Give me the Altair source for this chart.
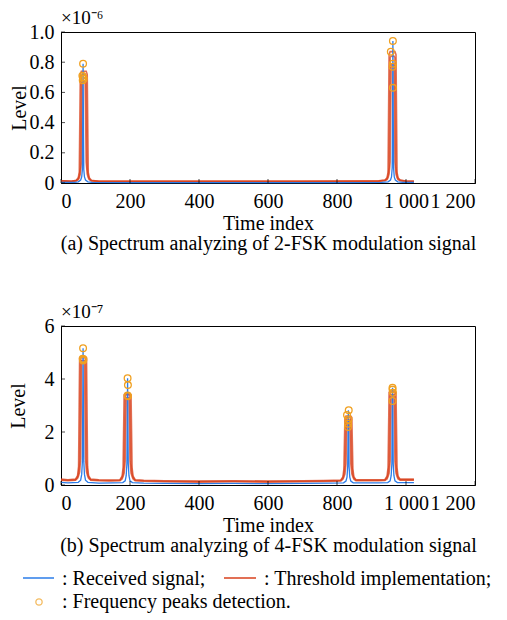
import altair as alt
import pandas as pd

FONT = "Liberation Serif"
BLUE = "#2b7de9"
RED = "#d8401c"
ORANGE = "#f0a020"

# ---------------- data: panel (a), values in units of 1e-6 ----------------
x_ticks = [0, 200, 400, 600, 800, 1000, 1200]
y_ticks_a = [0, 0.2, 0.4, 0.6, 0.8, 1.0]
y_ticks_b = [0, 2, 4, 6]

red_x_a = [0, 30, 44, 50, 53, 56, 59, 62, 70, 73, 76, 79, 82, 88, 110,
           300, 500, 700, 880,
           921, 939, 945, 948, 951, 954, 957, 965, 968, 971, 974, 977, 983, 1000, 1023]
red_outer_a = [0.015, 0.012, 0.018, 0.035, 0.07, 0.72, 0.74, 0.74, 0.74, 0.74, 0.72, 0.07, 0.035, 0.018, 0.012,
               0.012, 0.012, 0.012, 0.013,
               0.014, 0.02, 0.035, 0.07, 0.85, 0.87, 0.87, 0.87, 0.87, 0.85, 0.07, 0.035, 0.02, 0.013, 0.012]
red_mid_a = [0.014, 0.011, 0.016, 0.028, 0.05, 0.1, 0.71, 0.72, 0.72, 0.71, 0.1, 0.05, 0.028, 0.016, 0.011,
             0.011, 0.011, 0.011, 0.012,
             0.013, 0.018, 0.028, 0.05, 0.1, 0.83, 0.84, 0.84, 0.83, 0.1, 0.05, 0.028, 0.018, 0.012, 0.011]
red_inner_a = [0.013, 0.01, 0.014, 0.022, 0.035, 0.06, 0.14, 0.67, 0.67, 0.14, 0.06, 0.035, 0.022, 0.014, 0.01,
               0.01, 0.01, 0.01, 0.011,
               0.012, 0.015, 0.022, 0.035, 0.06, 0.14, 0.79, 0.79, 0.14, 0.06, 0.035, 0.022, 0.015, 0.011, 0.01]

blue_x_a = [0, 40,
            50, 57, 60, 62, 63, 64, 65, 66, 68, 71, 78,
            90, 200, 400, 600, 800, 930,
            948, 955, 958, 960, 961, 962, 963, 964, 966, 969, 976,
            990, 1023]
blue_y_a = [0.004, 0.004,
            0.008, 0.02, 0.04, 0.09, 0.42, 0.79, 0.42, 0.09, 0.04, 0.02, 0.008,
            0.004, 0.003, 0.003, 0.003, 0.003, 0.004,
            0.008, 0.02, 0.04, 0.1, 0.48, 0.94, 0.48, 0.1, 0.04, 0.02, 0.008,
            0.004, 0.004]

peak_x_a = [64, 62, 64, 66, 63, 962, 956, 962, 961, 962]
peak_y_a = [0.79, 0.71, 0.70, 0.69, 0.68, 0.94, 0.87, 0.79, 0.77, 0.63]

# ---------------- data: panel (b), values in units of 1e-7 ----------------
red_x_b = [0, 20,
           42, 48, 51, 54, 57, 60, 68, 71, 74, 77, 80, 86,
           110, 140,
           171, 177, 180, 183, 186, 189, 197, 200, 203, 206, 209, 215,
           240, 300, 400, 500, 600, 700, 760, 790,
           811, 817, 820, 823, 826, 829, 837, 840, 843, 846, 849, 855,
           880, 920,
           939, 945, 948, 951, 954, 957, 965, 968, 971, 974, 977, 983,
           1000, 1023]
red_outer_b = [0.22, 0.2,
               0.22, 0.35, 0.7, 4.8, 4.85, 4.85, 4.85, 4.85, 4.8, 0.7, 0.35, 0.22,
               0.2, 0.19,
               0.2, 0.33, 0.65, 3.4, 3.45, 3.45, 3.45, 3.45, 3.4, 0.65, 0.33, 0.2,
               0.18, 0.16, 0.15, 0.16, 0.15, 0.16, 0.17, 0.18,
               0.19, 0.3, 0.6, 2.55, 2.6, 2.6, 2.6, 2.6, 2.55, 0.6, 0.3, 0.2,
               0.2, 0.2,
               0.21, 0.33, 0.65, 3.5, 3.55, 3.55, 3.55, 3.55, 3.5, 0.65, 0.33, 0.22,
               0.22, 0.22]
red_mid_b = [0.2, 0.18,
             0.2, 0.3, 0.45, 0.9, 4.78, 4.8, 4.8, 4.78, 0.9, 0.45, 0.3, 0.2,
             0.18, 0.17,
             0.18, 0.28, 0.42, 0.8, 3.38, 3.4, 3.4, 3.38, 0.8, 0.42, 0.28, 0.18,
             0.16, 0.14, 0.13, 0.14, 0.13, 0.14, 0.15, 0.16,
             0.17, 0.26, 0.4, 0.75, 2.53, 2.55, 2.55, 2.53, 0.75, 0.4, 0.26, 0.18,
             0.18, 0.18,
             0.19, 0.28, 0.42, 0.8, 3.48, 3.5, 3.5, 3.48, 0.8, 0.42, 0.28, 0.2,
             0.2, 0.2]
red_inner_b = [0.18, 0.16,
               0.18, 0.25, 0.35, 0.5, 1.0, 4.7, 4.7, 1.0, 0.5, 0.35, 0.25, 0.18,
               0.16, 0.15,
               0.16, 0.23, 0.32, 0.45, 0.9, 3.3, 3.3, 0.9, 0.45, 0.32, 0.23, 0.16,
               0.14, 0.12, 0.11, 0.12, 0.11, 0.12, 0.13, 0.14,
               0.15, 0.22, 0.3, 0.42, 0.8, 2.45, 2.45, 0.8, 0.42, 0.3, 0.22, 0.16,
               0.16, 0.16,
               0.17, 0.23, 0.32, 0.45, 0.9, 3.4, 3.4, 0.9, 0.45, 0.32, 0.23, 0.18,
               0.18, 0.18]

blue_x_b = [0, 20,
            50, 57, 60, 62, 63, 64, 65, 66, 68, 71, 78,
            110, 150,
            179, 186, 189, 191, 192, 193, 194, 195, 197, 200, 207,
            240, 300, 400, 500, 600, 700, 780,
            819, 826, 829, 831, 832, 833, 834, 835, 837, 840, 847,
            880, 920,
            947, 954, 957, 959, 960, 961, 962, 963, 965, 968, 975,
            1000, 1023]
blue_y_b = [0.1, 0.08,
            0.1, 0.18, 0.4, 0.9, 2.9, 5.16, 2.9, 0.9, 0.4, 0.18, 0.1,
            0.07, 0.08,
            0.09, 0.16, 0.35, 0.8, 2.2, 4.03, 2.2, 0.8, 0.35, 0.16, 0.09,
            0.07, 0.06, 0.05, 0.06, 0.05, 0.06, 0.07,
            0.08, 0.15, 0.3, 0.7, 1.85, 2.82, 1.85, 0.7, 0.3, 0.15, 0.08,
            0.08, 0.08,
            0.09, 0.16, 0.35, 0.8, 2.54, 3.67, 2.54, 0.8, 0.35, 0.16, 0.09,
            0.09, 0.09]

peak_x_b = [64, 63, 65, 64, 193, 194, 193, 194, 834, 829, 833, 832, 832, 961, 961, 962, 961]
peak_y_b = [5.16, 4.76, 4.74, 4.70, 4.03, 3.77, 3.38, 3.35, 2.82, 2.64, 2.47, 2.31, 2.19,
            3.67, 3.60, 3.48, 3.17]

captions = ["(a) Spectrum analyzing of 2-FSK modulation signal",
            "(b) Spectrum analyzing of 4-FSK modulation signal"]
exponents = ["×10⁻⁶", "×10⁻⁷"]
legend_labels = [": Received signal;", ": Threshold implementation;", ": Frequency peaks detection."]


def red_frame(xs, frames):
    rows = []
    for name, ys in frames:
        for x, y in zip(xs, ys):
            rows.append({"x": x, "y": y, "frame": name})
    return pd.DataFrame(rows)


def one(t):
    return pd.DataFrame({"t": [t]})


X_LABEL = "datum.value >= 1000 ? replace(format(datum.value, ','), ',', ' ') : format(datum.value, 'd')"
TXT = 20


def text_layer(label, x, y, size=TXT):
    return alt.Chart(one(label)).mark_text(
        align="left", baseline="alphabetic", font=FONT, fontSize=size, color="black").encode(
        text="t:N", x=alt.value(x), y=alt.value(y))


def panel(red_df, blue_df, pk_df, ymax, yticks, ylabel_expr, exponent, caption,
          height, ytitle_pad, legend=False):
    W = 414
    xs = alt.Scale(domain=[0, 1200], nice=False)
    ys = alt.Scale(domain=[0, ymax], nice=False)
    xaxis = alt.Axis(values=x_ticks, ticks=False, grid=False, labelExpr=X_LABEL,
                     title=["Time index", caption], labelPadding=8, titlePadding=2,
                     titleLineHeight=20)
    yaxis = alt.Axis(values=yticks, ticks=False, grid=False, labelExpr=ylabel_expr,
                     title="Level", labelPadding=7, titlePadding=ytitle_pad)
    X = alt.X("x:Q", scale=xs, axis=xaxis)
    Y = alt.Y("y:Q", scale=ys, axis=yaxis)
    red = alt.Chart(red_df).mark_line(color=RED, strokeWidth=1.6, opacity=0.75).encode(
        x=X, y=Y, detail="frame:N")
    blue = alt.Chart(blue_df).mark_line(color=BLUE, strokeWidth=1.3).encode(x=X, y=Y)
    pts = alt.Chart(pk_df).mark_point(shape="circle", filled=False, color=ORANGE,
                                      size=45, strokeWidth=1.3, opacity=1).encode(x=X, y=Y)
    xt = alt.Chart(pd.DataFrame({"x": x_ticks})).mark_tick(
        orient="vertical", size=4, thickness=1, color="black").encode(
        x=X, y=alt.value(height - 2))
    yt = alt.Chart(pd.DataFrame({"y": yticks})).mark_tick(
        orient="horizontal", size=4, thickness=1, color="black").encode(
        y=Y, x=alt.value(2))
    layers = [red, blue, pts, xt, yt, text_layer(exponent, 0, -8, 19)]
    if legend:
        layers += [
            alt.Chart(one(legend_labels[0])).mark_rule(color=BLUE, strokeWidth=1.5).encode(
                x=alt.value(-38), x2=alt.value(-7), y=alt.value(252)),
            text_layer(legend_labels[0], 1, 259),
            alt.Chart(one(legend_labels[1])).mark_rule(color=RED, strokeWidth=1.5).encode(
                x=alt.value(163), x2=alt.value(195), y=alt.value(252)),
            text_layer(legend_labels[1], 203, 259),
            alt.Chart(one(legend_labels[2])).mark_point(
                shape="circle", filled=False, color=ORANGE, size=40, strokeWidth=1.3).encode(
                x=alt.value(-22), y=alt.value(276)),
            text_layer(legend_labels[2], 1, 282),
        ]
    return alt.layer(*layers).properties(width=W, height=height)


red_a = red_frame(red_x_a, [("outer", red_outer_a), ("mid", red_mid_a), ("inner", red_inner_a)])
red_b = red_frame(red_x_b, [("outer", red_outer_b), ("mid", red_mid_b), ("inner", red_inner_b)])
blue_a = pd.DataFrame({"x": blue_x_a, "y": blue_y_a})
blue_b = pd.DataFrame({"x": blue_x_b, "y": blue_y_b})
pk_a = pd.DataFrame({"x": peak_x_a, "y": peak_y_a})
pk_b = pd.DataFrame({"x": peak_x_b, "y": peak_y_b})

top = panel(red_a, blue_a, pk_a, 1.0, y_ticks_a,
            "datum.value == 0 ? '0' : format(datum.value, '.1f')",
            exponents[0], captions[0], 151, 0)
bottom = panel(red_b, blue_b, pk_b, 6, y_ticks_b, "format(datum.value, 'd')",
               exponents[1], captions[1], 159, 15.5, legend=True)

chart = alt.vconcat(top, bottom, spacing=48, padding=0, background="white").configure_view(
    stroke="black", strokeWidth=1
).configure_axis(
    domainColor="black", domainWidth=1,
    labelFont=FONT, labelFontSize=20, labelColor="black",
    titleFont=FONT, titleFontSize=TXT, titleFontWeight="normal", titleColor="black",
)

chart.save("out.html", embed_options={"renderer": "svg", "actions": False})
